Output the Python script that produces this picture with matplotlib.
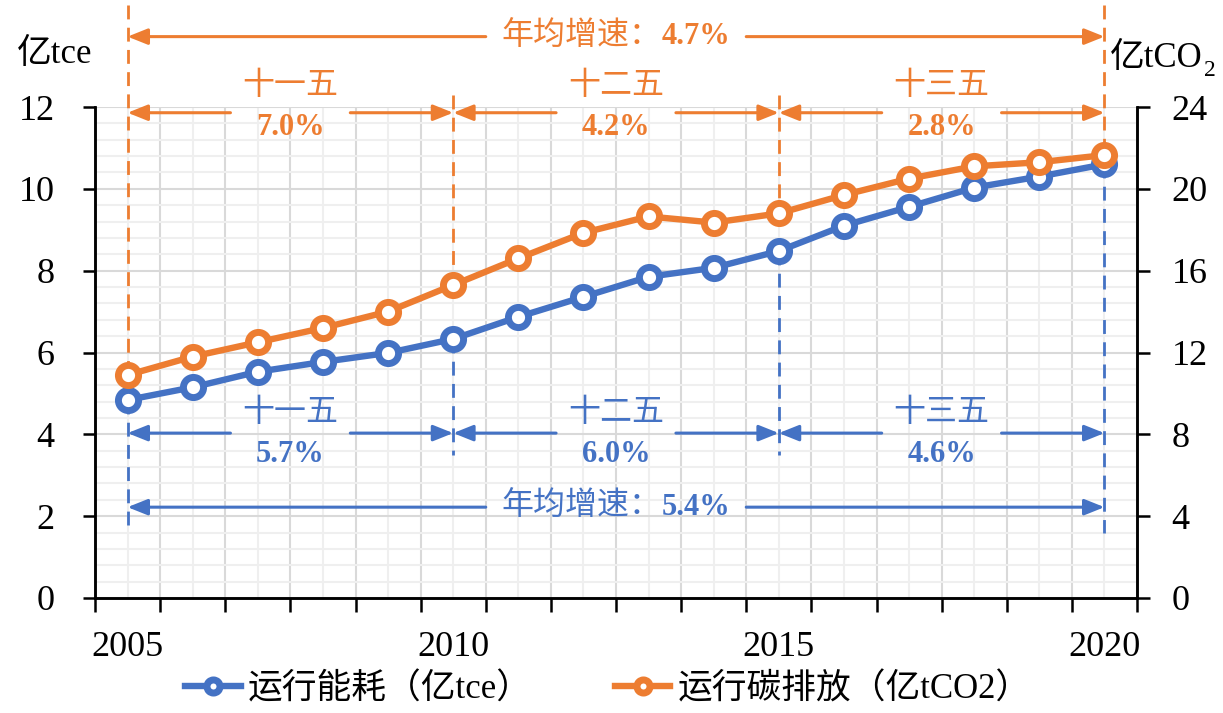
import numpy as np
import matplotlib
matplotlib.use('Agg')
import matplotlib.pyplot as plt

plt.rcParams['font.family'] = ['Liberation Serif', 'Noto Sans CJK SC']

# data
years = list(range(2005, 2021))
energy = [4.84, 5.15, 5.53, 5.77, 5.99, 6.33, 6.87, 7.36, 7.85, 8.07, 8.48, 9.10, 9.56, 10.03, 10.30, 10.60]
carbon = [10.9, 11.8, 12.5, 13.2, 14.0, 15.3, 16.6, 17.85, 18.65, 18.35, 18.8, 19.7, 20.5, 21.1, 21.3, 21.65]
year_labels = ['2005', '2010', '2015', '2020']
periods = ['十一五', '十二五', '十三五']
energy_rates = ['5.7%', '6.0%', '4.6%']
carbon_rates = ['7.0%', '4.2%', '2.8%']
energy_avg = '5.4%'
carbon_avg = '4.7%'

BLUE = '#4472C4'
ORANGE = '#ED7D31'

x = np.arange(len(years))
bounds = [0, 5, 10, 15]   # index of 2005, 2010, 2015, 2020

fig = plt.figure(figsize=(12.23, 7.13), dpi=100)
ax = fig.add_axes([95/1223, 1-598/713, (1137-95)/1223, (598-107)/713])
ax2 = ax.twinx()

# grid
ax.set_axisbelow(True)
ax.set_xlim(-0.5, len(years) - 0.5)
ax.set_ylim(0, 12)
ax.set_xticks(np.arange(-0.5, len(years), 1))
ax.set_xticklabels([])
ax.set_xticks(x, minor=True)
ax.set_xticklabels([str(y) if str(y) in year_labels else '' for y in years], minor=True)
ax.set_yticks(np.arange(0, 13, 2))
ax.set_yticks(np.arange(0, 12.01, 0.4), minor=True)
ax.grid(which='major', color='#d9d9d9', lw=1.5)
ax.grid(which='minor', color='#efefef', lw=1.5)
ax.tick_params(axis='x', which='major', length=10, width=1.8, direction='out')
ax.tick_params(axis='x', which='minor', length=0, pad=24, labelsize=26)
ax.tick_params(axis='y', which='major', length=9, width=1.8, pad=20, labelsize=26)
ax.tick_params(axis='y', which='minor', length=0)

ax2.set_ylim(0, 24)
ax2.set_yticks(np.arange(0, 25, 4))
ax2.tick_params(axis='y', length=9, width=1.8, pad=16, labelsize=26)

for a in (ax, ax2):
    a.spines['top'].set_visible(False)
    for s in ('left', 'right', 'bottom'):
        a.spines[s].set_linewidth(1.8)

# series
l1, = ax.plot(x, energy, color=BLUE, lw=4.6, marker='o', ms=14.5, mew=5,
              mfc='white', mec=BLUE, zorder=4, clip_on=False, label='运行能耗（亿tce）')
l2, = ax2.plot(x, carbon, color=ORANGE, lw=4.6, marker='o', ms=14.5, mew=5,
               mfc='white', mec=ORANGE, zorder=4, clip_on=False, label='运行碳排放（亿tCO2）')

# dashed markers of the periods
dash = (0, (5, 3))
for i in bounds:
    top = 14.5 if i in (0, 15) else 12.3
    ax.plot([x[i], x[i]], [top, carbon[i] / 2], color=ORANGE, lw=2, ls=dash,
            clip_on=False, zorder=2)
    bot = 1.6 if i in (0, 15) else 3.5
    ax.plot([x[i], x[i]], [energy[i], bot], color=BLUE, lw=2, ls=dash,
            clip_on=False, zorder=2)


def arrow(x0, x1, y, color):
    ax.annotate('', xy=(x1, y), xytext=(x0, y), xycoords='data',
                arrowprops=dict(arrowstyle='-|>,head_length=0.55,head_width=0.22',
                                color=color, lw=2.2, shrinkA=0, shrinkB=0,
                                mutation_scale=22),
                annotation_clip=False, zorder=3)


def span(a, b, y, gap, color):
    mid = (a + b) / 2
    arrow(mid - gap, a, y, color)
    arrow(mid + gap, b, y, color)


# per period
for k in range(3):
    a, b = x[bounds[k]], x[bounds[k + 1]]
    mid = (a + b) / 2
    span(a, b, 11.86, 0.92, ORANGE)
    ax.text(mid, 12.5, periods[k], color=ORANGE, fontsize=23, ha='center', va='center')
    ax.text(mid, 11.5, carbon_rates[k], color=ORANGE, fontsize=22, fontweight='bold',
            ha='center', va='center')
    span(a, b, 4.03, 0.92, BLUE)
    ax.text(mid, 4.52, periods[k], color=BLUE, fontsize=23, ha='center', va='center')
    ax.text(mid, 3.5, energy_rates[k], color=BLUE, fontsize=22, fontweight='bold',
            ha='center', va='center')

# whole period
a, b = x[bounds[0]], x[bounds[-1]]
span(a, b, 13.72, 2.0, ORANGE)
span(a, b, 2.22, 2.0, BLUE)
split = 8.2
ax.text(split, 13.72, '年均增速：', color=ORANGE, fontsize=23, ha='right', va='center')
ax.text(split, 13.72, carbon_avg, color=ORANGE, fontsize=22, fontweight='bold',
        ha='left', va='center')
ax.text(split, 2.22, '年均增速：', color=BLUE, fontsize=23, ha='right', va='center')
ax.text(split, 2.22, energy_avg, color=BLUE, fontsize=22, fontweight='bold',
        ha='left', va='center')

# axis titles
fig.text(55/1223, 1-55/713, '亿tce', fontsize=25, ha='center', va='center')
fig.text(1203/1223, 1-58/713, '亿tCO', fontsize=25, ha='right', va='center')
fig.text(1204/1223, 1-70/713, '2', fontsize=17, ha='left', va='center')

fig.legend(handles=[l1, l2], loc='center', bbox_to_anchor=(0.497, 1-690/713),
           ncol=2, frameon=False, fontsize=25, handlelength=1.6, handletextpad=0.2,
           columnspacing=2.4, markerscale=0.65)

fig.savefig('out.png', dpi=100)
